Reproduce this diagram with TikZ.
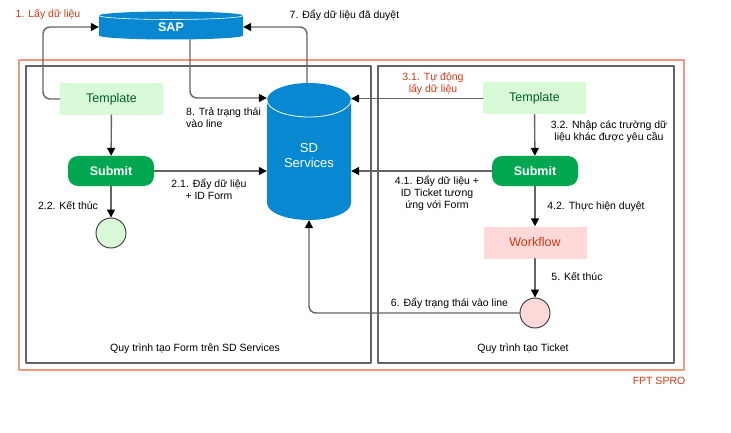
\documentclass[tikz,border=0pt]{standalone}
\usepackage{fontspec}
\setmainfont{Liberation Sans}
\usetikzlibrary{arrows.meta}
\definecolor{dbblue}{RGB}{8,136,208}
\definecolor{subgreen}{RGB}{0,166,80}
\definecolor{tplfill}{RGB}{217,250,215}
\definecolor{tpltext}{RGB}{0,92,42}
\definecolor{wffill}{RGB}{255,217,217}
\definecolor{redtext}{RGB}{208,56,16}
\definecolor{frame}{RGB}{238,152,124}
\definecolor{conn}{RGB}{100,100,100}
\begin{document}
\begin{tikzpicture}[x=1pt, y=-1pt, line join=round, line cap=round,
  >={Triangle[width=8pt,length=8pt,color=black]},
  font=\fontsize{10.5}{12}\selectfont,
  line/.style={draw=conn, line width=1.4pt},
  tpl/.style={fill=tplfill, text=tpltext, minimum width=103pt, minimum height=32pt, inner sep=0pt, font=\fontsize{12.5}{14}\selectfont},
  sub/.style={fill=subgreen, text=white, rounded corners=10pt, minimum width=86pt, minimum height=30pt, inner sep=0pt, font=\fontsize{12.5}{14}\selectfont\bfseries},
  endc/.style={circle, draw=black!80, line width=0.9pt, minimum size=30pt, inner sep=0pt},
  lbl/.style={align=center, inner sep=0pt}]
\useasboundingbox (0,0) rectangle (731,433);
% frames
\draw[frame, line width=1.8pt] (19,60) rectangle (684,370);
\draw[conn, line width=1.6pt] (26,66) rectangle (371,363);
\draw[conn, line width=1.6pt] (378,66) rectangle (674,363);
% SAP
\fill[dbblue] (99,15.5) -- (99,35.5) arc (180:0:72 and 4) -- (243,15.5) arc (0:-180:72 and 4) -- cycle;
\draw[white, line width=0.6pt] (99,15.5) arc (180:0:72 and 4);
\node[minimum width=144pt, minimum height=25pt, inner sep=0pt, text=white, font=\fontsize{12.5}{14}\selectfont\bfseries] (sap) at (171,27) {SAP};
% SD Services
\fill[dbblue] (267,100) -- (267,203) arc (180:0:42 and 17) -- (351,100) arc (0:-180:42 and 17) -- cycle;
\draw[white, line width=0.8pt] (267,100) arc (180:0:42 and 17);
\node[minimum width=84pt, minimum height=137pt, inner sep=0pt] (sd) at (309,151.5) {};
\node[text=white, align=center, font=\fontsize{13}{15}\selectfont] at (309,156) {SD\\Services};
% nodes
\node[tpl] (tplL) at (111.5,99) {Template};
\node[sub] (subL) at (111,171) {Submit};
\node[endc, fill=tplfill] (endL) at (111,233) {};
\node[tpl] (tplR) at (534.5,98.5) {Template};
\node[sub] (subR) at (535,171) {Submit};
\node[tpl, fill=wffill, text=redtext] (wf) at (535,242.5) {Workflow};
\node[endc, fill=wffill] (endR) at (535,313) {};
% connectors
\coordinate (k1) at (43,27);
\coordinate (k8) at (190,98);
\coordinate (k7) at (307,27);
\draw[line, rounded corners=7pt, ->] (tplL.west) -| (k1) -- (sap.west);
\draw[line, rounded corners=7pt, ->] (k8 |- sap.south) -- (k8) -- (k8 -| sd.west);
\draw[line, rounded corners=7pt, ->] (sd.north -| k7) -- (k7) -- (sap.east);
\draw[line, ->] (tplR.west) -- (tplR.west -| sd.east);
\draw[line, ->] (tplL) -- (subL);
\draw[line, ->] (subL.east) -- (subL.east -| sd.west);
\draw[line, ->] (subL) -- (endL);
\draw[line, ->] (tplR) -- (subR);
\draw[line, ->] (subR.west) -- (subR.west -| sd.east);
\draw[line, ->] (subR) -- (wf);
\draw[line, ->] (wf) -- (endR);
\draw[line, rounded corners=7pt, ->] (endR.west) -| (sd.south);
% labels
\node[lbl, text=redtext] (l1) at (48,15) {1. Lấy dữ liệu};
\node[lbl] (l7) at (344.5,15) {7. Đẩy dữ liệu đã duyệt};
\node[lbl, align=left, anchor=north west] (l8) at (186,107) {8. Trả trạng thái\\vào line};
\node[lbl, text=redtext] (l31) at (433,84) {3.1. Tự động\\lấy dữ liệu};
\node[lbl] (l32) at (609,132) {3.2. Nhập các trường dữ\\liệu khác được yêu cầu};
\node[lbl] (l41) at (437,193) {4.1. Đẩy dữ liệu +\\ID Ticket tương\\ứng với Form};
\node[lbl] (l42) at (596,207) {4.2. Thực hiện duyệt};
\node[lbl] (l21) at (209,189.5) {2.1. Đẩy dữ liệu\\+ ID Form};
\node[lbl] (l22) at (68,206) {2.2. Kết thúc};
\node[lbl] (l5) at (577,277) {5. Kết thúc};
\node[lbl] (l6) at (449.5,303) {6. Đẩy trạng thái vào line};
\node[lbl] (p1) at (195,349) {Quy trình tạo Form trên SD Services};
\node[lbl] (p2) at (523,349) {Quy trình tạo Ticket};
\node[lbl, text=redtext] (fpt) at (659,381) {FPT SPRO};
\end{tikzpicture}
\end{document}
